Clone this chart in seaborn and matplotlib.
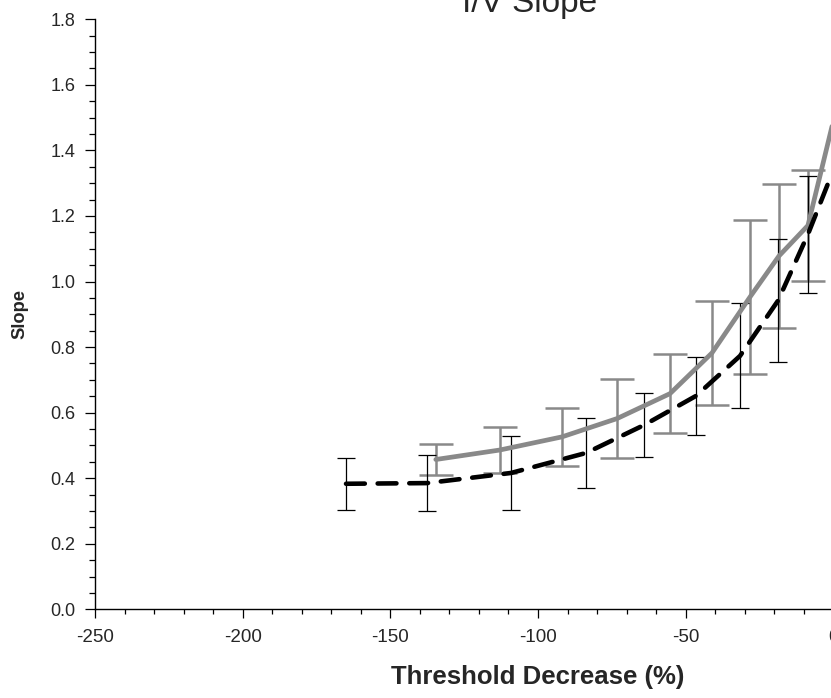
import numpy as np
import pandas as pd
import matplotlib
matplotlib.use("Agg")
import matplotlib.pyplot as plt
import seaborn as sns
from matplotlib.ticker import MultipleLocator

# dashed black series (x = threshold decrease %, y = slope, err = +/-)
black_x = [-165.0, -137.6, -109.1, -83.7, -64.1, -46.5, -31.6, -18.7, -8.6, 0.0]
black_y = [0.383, 0.385, 0.416, 0.477, 0.562, 0.651, 0.773, 0.942, 1.144, 1.34]
black_err = [0.080, 0.085, 0.113, 0.107, 0.098, 0.119, 0.160, 0.188, 0.178, np.nan]

# solid grey series
grey_x = [-134.6, -112.9, -91.9, -73.2, -55.3, -41.1, -28.2, -18.4, -8.6, 0.0]
grey_y = [0.457, 0.486, 0.526, 0.582, 0.658, 0.782, 0.953, 1.078, 1.171, 1.49]
grey_err = [0.047, 0.070, 0.088, 0.120, 0.120, 0.158, 0.235, 0.220, 0.169, np.nan]

x_ticks = [-250, -200, -150, -100, -50, 0, 50]
x_tick_labels = ["-250", "-200", "-150", "-100", "-50", "0", "50"]

df_black = pd.DataFrame({"x": black_x, "y": black_y, "err": black_err})
df_grey = pd.DataFrame({"x": grey_x, "y": grey_y, "err": grey_err})

sns.set_style("ticks")
plt.rcParams["font.family"] = ["Liberation Sans", "DejaVu Sans"]

GREY = "#898989"

fig = plt.figure(figsize=(8.31, 6.98), dpi=100)
# axes runs past the right edge on purpose (reference is cropped at x=0)
ax = fig.add_axes([95 / 831, 1 - 609.3 / 698, 886 / 831, 590 / 698])

# error bars first
eb = df_grey.dropna()
ax.errorbar(eb["x"], eb["y"], yerr=eb["err"], fmt="none", ecolor=GREY,
            elinewidth=1.8, capsize=12, capthick=1.8, zorder=2)
eb = df_black.dropna()
ax.errorbar(eb["x"], eb["y"], yerr=eb["err"], fmt="none", ecolor="black",
            elinewidth=0.9, capsize=6.2, capthick=0.9, zorder=3)

sns.lineplot(data=df_grey, x="x", y="y", color=GREY, linewidth=3.4,
             errorbar=None, ax=ax, zorder=4)
sns.lineplot(data=df_black, x="x", y="y", color="black", linewidth=3.3,
             errorbar=None, ax=ax, zorder=5)
ax.lines[-1].set_dashes((4.1, 2.8))
ax.lines[-1].set_dash_capstyle("round")

ax.set_xlim(-250, 50)
ax.set_ylim(0, 1.8)
ax.set_xticks(x_ticks)
ax.set_xticklabels(x_tick_labels)
ax.xaxis.set_minor_locator(MultipleLocator(10))
ax.yaxis.set_major_locator(MultipleLocator(0.2))
ax.yaxis.set_minor_locator(MultipleLocator(0.05))
ax.yaxis.set_major_formatter(matplotlib.ticker.FormatStrFormatter("%.1f"))

sns.despine(ax=ax, top=True, right=True)
for s in ["left", "bottom"]:
    ax.spines[s].set_linewidth(1.0)
    ax.spines[s].set_color("black")

ax.tick_params(axis="y", which="major", length=7.2, width=0.9, pad=7, labelsize=13, color="black")
ax.tick_params(axis="y", which="minor", length=4.3, width=0.9, color="black")
ax.tick_params(axis="x", which="major", length=6.5, width=0.9, pad=8, labelsize=13.5, color="black")
ax.tick_params(axis="x", which="minor", length=3.6, width=0.9, color="black")

ax.set_xlabel("Threshold Decrease (%)", fontsize=18.5, fontweight="bold")
ax.set_ylabel("Slope", fontsize=13.2, fontweight="bold")
ax.xaxis.set_label_coords(0.5, -0.0944)
ax.yaxis.set_label_coords((28 - 95) / 886, 0.5)

ax.set_title("I/V Slope", fontsize=24, pad=4.8, x=0.491)

fig.savefig("out.png", dpi=100)
